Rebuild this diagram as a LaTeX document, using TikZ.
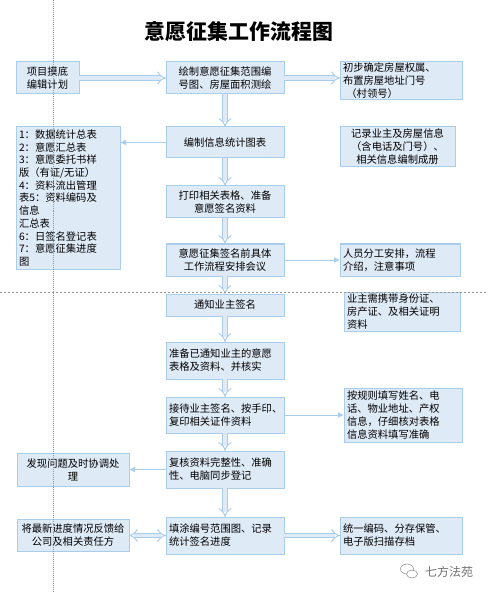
\documentclass[tikz,border=0pt]{standalone}
\usepackage{fontspec}
\setmainfont{Noto Sans CJK SC}
\usepackage{xcolor}
\usetikzlibrary{arrows.meta,positioning,shapes.geometric}
\definecolor{myfill}{RGB}{222,234,246}
\definecolor{myline}{RGB}{170,205,236}
\definecolor{mygray}{RGB}{150,150,150}

\begin{document}
\begin{tikzpicture}[
  x=1pt, y=1pt,
  every node/.style={font=\fontsize{10.3}{13}\selectfont, align=center},
  box/.style={draw=myline, fill=myfill, line width=1pt, outer sep=0pt, inner xsep=3pt, inner ysep=1pt, text=black},
  flow/.style={box, text width=112pt, minimum height=#1},
  flow/.default=32pt,
  side/.style={box, text width=116pt, minimum height=#1},
  side/.default=32pt,
  hollow/.style={-{Implies[length=5pt,width=11pt]}, draw=myline, double=myfill, line width=1pt, double distance=3.6pt},
  hollowboth/.style={hollow, {Implies[length=5pt,width=11pt]}-{Implies[length=5pt,width=11pt]}},
  arr/.style={-{Latex[length=6pt,width=6pt]}, draw=myline, line width=1pt},
  guide/.style={draw=mygray, line width=1pt, dash pattern=on 1.5pt off 2.5pt},
  guidev/.style={draw=mygray, line width=1pt, densely dotted}
]
\useasboundingbox (0,0) rectangle (488,-593);

\node[font=\bfseries\fontsize{20.9}{24}\selectfont] (title) at (239,-32) {意愿征集工作流程图};

% middle column
\node[flow, anchor=north west] (draw) at (166,-62) {绘制意愿征集范围编\\号图、房屋面积测绘};
\node[flow=31pt, below=33pt of draw] (stats) {编制信息统计图表};
\node[flow, below=28pt of stats] (print) {打印相关表格、准备\\意愿签名资料};
\node[flow, below=26pt of print] (meet) {意愿征集签名前具体\\工作流程安排会议};
\node[flow=22pt, below=18pt of meet] (notify) {通知业主签名};
\node[flow=37pt, below=26pt of notify, align=left] (prep) {准备已通知业主的意愿\\表格及资料、并核实};
\node[flow=36pt, below=18pt of prep, align=left] (sign) {接待业主签名、按手印、\\复印相关证件资料};
\node[flow=37pt, below=18pt of sign, align=left] (check) {复核资料完整性、准确\\性、电脑同步登记};
\node[flow=37pt, below=29pt of check, align=left] (fill) {填涂编号范围图、记录\\统计签名进度};

% left column
\node[box, text width=57pt, minimum height=32pt, below left=0pt and 87pt of draw.north west] (plan) {项目摸底\\编辑计划};
\node[box, text width=98pt, minimum height=142pt, below left=0pt and 46pt of stats.north west, align=left,
  font=\fontsize{10.3}{12.7}\selectfont] (list) {1：数据统计总表\\2：意愿汇总表\\3：意愿委托书样\\版（有证/无证）\\4：资料流出管理\\表5：资料编码及\\信息\\汇总表\\6：日签名登记表\\7：意愿征集进度\\图};
\node[box, text width=106pt, minimum height=33pt, left=37pt of check] (prob) {发现问题及时协调处\\理};
\node[box, text width=106pt, minimum height=32pt, left=37pt of fill] (feed) {将最新进度情况反馈给\\公司及相关责任方};

% right column
\node[side=38pt, below right=0pt and 56pt of draw.north east, align=left] (init) {初步确定房屋权属、\\布置房屋地址门号\\\ （村领号）};
\node[box, text width=109pt, minimum height=40pt, below right=0pt and 56pt of stats.north east] (rec) {记录业主及房屋信息\\（含电话及门号）、\\相关信息编制成册};
\node[box, text width=114pt, minimum height=32pt, right=56pt of meet, align=left] (staff) {人员分工安排，流程\\介绍，注意事项};
\node[box, text width=110pt, minimum height=39pt, below right=-2pt and 60pt of notify.north east, align=left] (carry) {业主需携带身份证、\\房产证、及相关证明\\资料};
\node[box, text width=112pt, minimum height=54pt, right=60pt of sign, align=left] (rules) {按规则填写姓名、电\\话、物业地址、产权\\信息，仔细核对表格\\信息资料填写准确};
\node[side=37pt, right=56pt of fill, align=left] (code) {统一编码、分存保管、\\电子版扫描存档};

% mark in the corner
\node[draw=mygray, ellipse, line width=0.6pt, minimum width=13pt, minimum height=10pt, inner sep=0pt] (bubbleA) at (407,-569) {};
\node[draw=mygray, fill=white, ellipse, line width=0.6pt, minimum width=11pt, minimum height=8pt, inner sep=0pt] (bubbleB) at (412,-574) {};
\node[font=\fontsize{12}{14}\selectfont, text=black!55] (mark) at (449,-572) {七方法苑};

\draw[hollow] (plan) -- (draw);
\draw[hollow] (draw.east) -- (draw.east -| init.west);
\draw[hollow] (draw) -- (stats);
\draw[arr] (stats.west) -- (stats.west -| list.east);
\draw[hollow] (stats) -- (print);
\draw[hollow] (print) -- (meet);
\draw[arr] (meet) -- (staff);
\draw[hollow] (meet) -- (notify);
\draw[hollow] (notify) -- (prep);
\draw[hollow] (prep) -- (sign);
\draw[arr] (sign) -- (rules);
\draw[hollow] (sign) -- (check);
\draw[arr] (check) -- (prob);
\draw[hollow] (check) -- (fill);
\draw[hollowboth] (fill) -- (feed);
\draw[hollow] (fill) -- (code);

% guide lines of the slide
\coordinate (guideTop) at (53.4,-0.5);
\coordinate (guideBottom) at (53.4,-592);
\coordinate (guideLeft) at (0,-292);
\coordinate (guideRight) at (488,-292);
\draw[guide] (guideLeft) -- (guideRight);
\draw[guidev] (guideTop) -- (guideBottom);
\end{tikzpicture}
\end{document}
